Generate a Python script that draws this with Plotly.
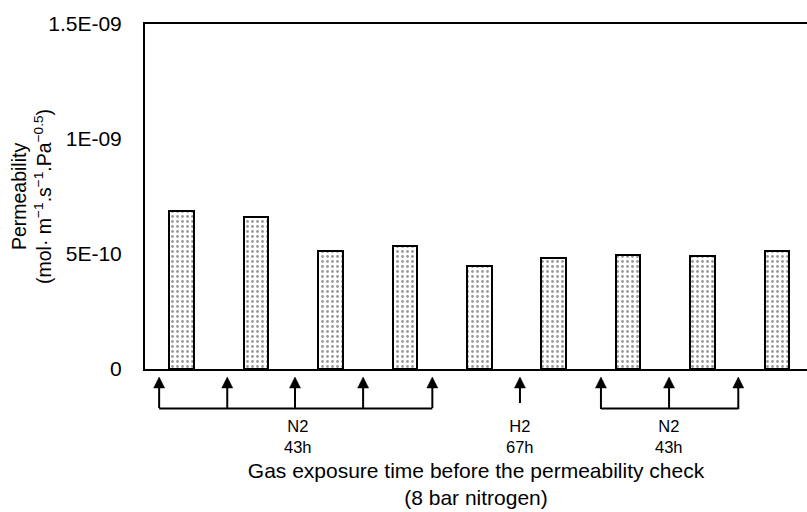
import plotly.graph_objects as go

# ---- data ----
positions = [0, 1, 2, 3, 4, 5, 6, 7, 8]
permeability = [6.85e-10, 6.61e-10, 5.11e-10, 5.33e-10, 4.47e-10,
                4.84e-10, 4.97e-10, 4.92e-10, 5.15e-10]
y_tickvals = [0, 5e-10, 1e-9, 1.5e-9]
y_ticktext = ["0", "5E-10", "1E-09", "1.5E-09"]

# gas exposure markers (arrows) below the axis, in category units
arrow_pos = [-0.30, 0.615, 1.525, 2.44, 3.37, 4.547, 5.635, 6.55, 7.48]
arrow_len = [31, 31, 31, 31, 31, 26, 32, 32, 32]
groups = [  # (first arrow index, last arrow index, label position, label)
    (0, 4, 1.56, "N2<br>43h"),
    (5, 5, 4.547, "H2<br>67h"),
    (6, 8, 6.55, "N2<br>43h"),
]

X_RANGE = [-0.49, 8.403]
FONT = "Liberation Sans, Arial, Helvetica, sans-serif"
PLOT_W = 662.0
PLOT_H = 345.0

fig = go.Figure()
fig.add_trace(go.Bar(
    x=positions, y=permeability, width=0.33,
    marker=dict(
        color="white",
        line=dict(color="black", width=2),
        pattern=dict(shape=".", size=5, solidity=0.25,
                     fgcolor="#333333", bgcolor="white"),
    ),
    showlegend=False,
))

def to_paper(xd):
    return (xd - X_RANGE[0]) / (X_RANGE[1] - X_RANGE[0])

tip_y = -8.0 / PLOT_H
head_h = 11.0 / PLOT_H
head_hw = 5.5 / PLOT_W
bracket_y = -39.5 / PLOT_H

annotations = []
shapes = []
for xa, ln in zip(arrow_pos, arrow_len):
    px = to_paper(xa)
    bottom = tip_y - ln / PLOT_H
    shapes.append(dict(
        type="line", xref="paper", yref="paper",
        x0=px, x1=px, y0=tip_y - head_h * 0.8, y1=bottom,
        line=dict(color="black", width=2),
    ))
    shapes.append(dict(
        type="path", xref="paper", yref="paper",
        path=(f"M {px:.5f},{tip_y:.5f} L {px - head_hw:.5f},{tip_y - head_h:.5f} "
              f"L {px + head_hw:.5f},{tip_y - head_h:.5f} Z"),
        fillcolor="black", line=dict(color="black", width=0.5),
    ))

for i0, i1, lx, label in groups:
    if i1 > i0:
        shapes.append(dict(
            type="line", xref="paper", yref="paper",
            x0=to_paper(arrow_pos[i0]), x1=to_paper(arrow_pos[i1]),
            y0=bracket_y, y1=bracket_y,
            line=dict(color="black", width=2),
        ))
    annotations.append(dict(
        x=lx, y=-67.5 / PLOT_H, xref="x", yref="paper",
        text=label, showarrow=False, xanchor="center", yanchor="middle",
        font=dict(size=16.5, color="black", family=FONT),
    ))

# y-axis title
annotations.append(dict(
    x=0, y=0.5, xref="paper", yref="paper", xshift=-113.5,
    text="Permeability<br>(mol· m<sup>−1</sup>.s<sup>−1</sup>.Pa<sup>−0.5</sup>)",
    textangle=-90, showarrow=False, xanchor="center", yanchor="middle",
    font=dict(size=19.5, color="black", family=FONT),
))

fig.update_layout(
    width=807, height=512,
    margin=dict(l=145, r=0, t=24, b=143),
    paper_bgcolor="white", plot_bgcolor="white",
    font=dict(family=FONT, color="black"),
    shapes=shapes, annotations=annotations,
    xaxis=dict(range=X_RANGE, showticklabels=False, ticks="",
               showgrid=False, zeroline=False, showline=True,
               linecolor="black", linewidth=2, mirror=True,
               title=dict(
                   text="Gas exposure time before the permeability check<br>(8 bar nitrogen)",
                   standoff=93,
                   font=dict(size=21, color="black", family=FONT)),
               automargin=False),
    yaxis=dict(range=[0, 1.5e-9], tickvals=y_tickvals, ticktext=y_ticktext,
               ticks="", ticklabelstandoff=17, showgrid=False,
               zeroline=False, showline=True, linecolor="black", linewidth=2,
               tickfont=dict(size=21, color="black", family=FONT)),
    bargap=0,
)

fig.write_html("out.html")
